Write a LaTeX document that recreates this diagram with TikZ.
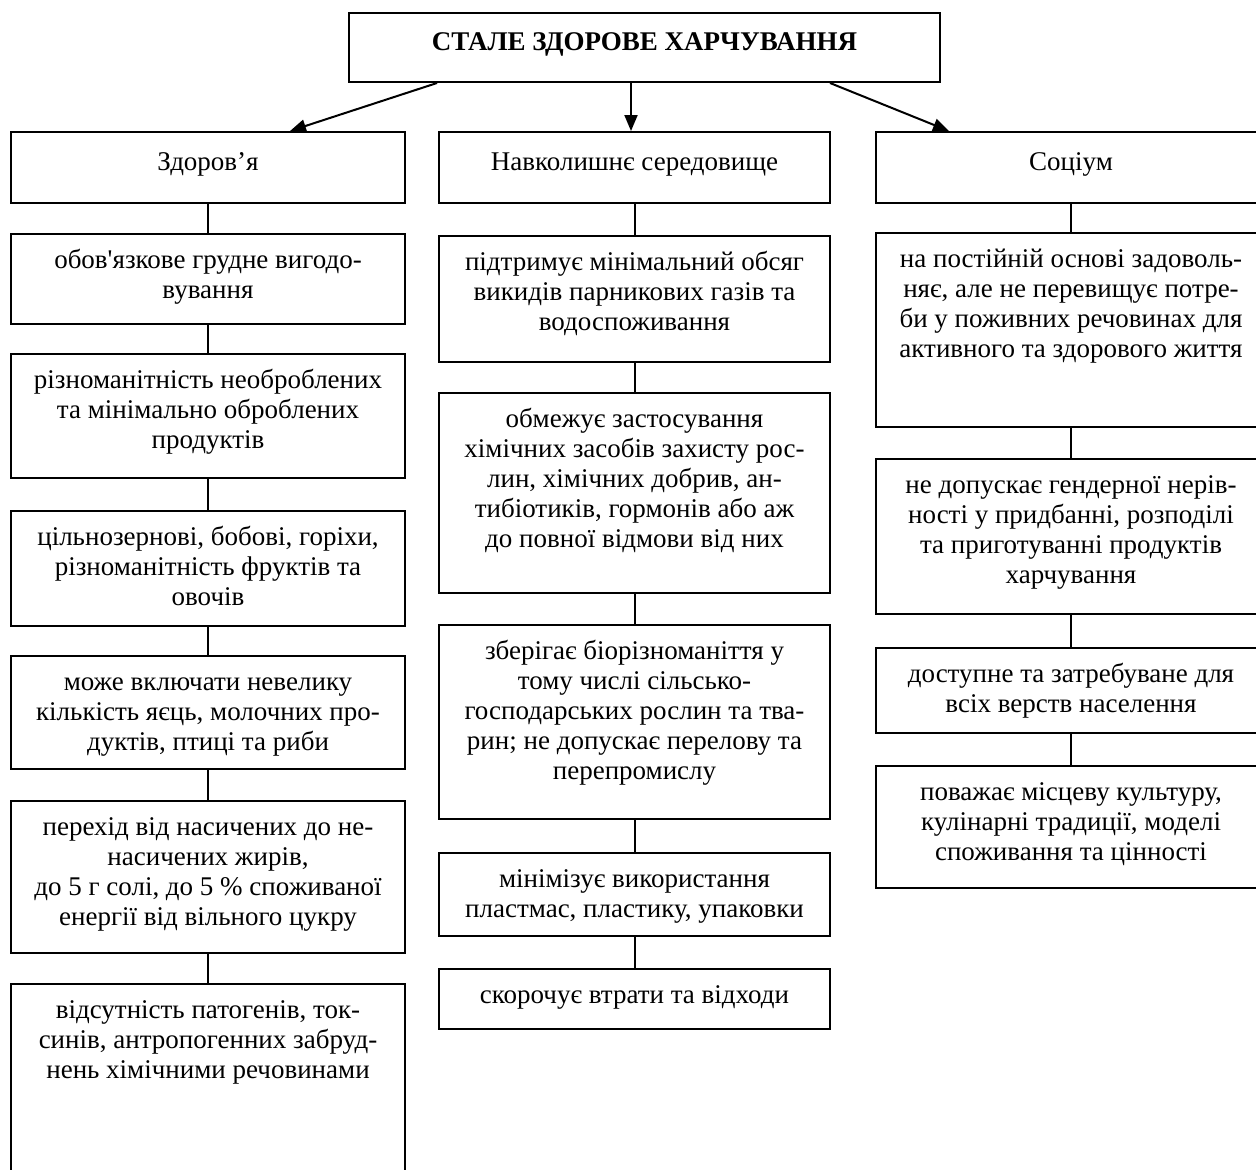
\documentclass[tikz,border=0pt]{standalone}
\usepackage{fontspec}
\setmainfont{Liberation Serif}
\newfontfamily\aposfont{Liberation Serif}[Ligatures=TeXOff]
\usetikzlibrary{arrows.meta}
\newcommand{\bx}[4]{\parbox[c][#2][t]{#1}{\centering\rule{0pt}{#3}#4}}
\tikzset{
  box/.style={draw, line width=1pt, inner sep=0pt, anchor=north, font=\fontsize{13.5}{15}\selectfont},
  link/.style={line width=1pt},
  arr/.style={line width=1pt, -{Triangle[length=8pt,width=6.5pt]}}
}
\begin{document}
\begin{tikzpicture}[x=0.5pt,y=-0.5pt]
\useasboundingbox (0,0) rectangle (1256,1169);
% title
\node[box, font=\fontsize{13.5}{15}\selectfont\bfseries] (top) at (644.5,12) {\bx{295.5pt}{34.5pt}{18.8pt}{СТАЛЕ ЗДОРОВЕ ХАРЧУВАННЯ}};
% level 1
\node[box] (h1) at (208,131) {\bx{197pt}{35.5pt}{19pt}{Здоров’я}};
\node[box] (h2) at (634.5,131) {\bx{195.5pt}{35.5pt}{19pt}{Навколишнє середовище}};
\node[box] (h3) at (1071,131) {\bx{195pt}{35.5pt}{19pt}{Соціум}};
% column 1
\node[box] (c1a) at (208,233) {\bx{197pt}{45pt}{17pt}{обов{\aposfont'}язкове грудне вигодо-\\вування}};
\node[box] (c1b) at (208,353) {\bx{197pt}{62pt}{17pt}{різноманітність необроблених\\та мінімально оброблених\\продуктів}};
\node[box] (c1c) at (208,510) {\bx{197pt}{57.5pt}{17pt}{цільнозернові, бобові, горіхи,\\різноманітність фруктів та\\овочів}};
\node[box] (c1d) at (208,655) {\bx{197pt}{56.5pt}{17pt}{може включати невелику\\кількість яєць, молочних про-\\дуктів, птиці та риби}};
\node[box] (c1e) at (208,800) {\bx{197pt}{76pt}{17pt}{перехід від насичених до не-\\насичених жирів,\\до 5 г солі, до 5 \% споживаної\\енергії від вільного цукру}};
\node[box] (c1f) at (208,983) {\bx{197pt}{100pt}{17pt}{відсутність патогенів, ток-\\синів, антропогенних забруд-\\нень хімічними речовинами}};
% column 2
\node[box] (c2a) at (634.5,235) {\bx{195.5pt}{63pt}{17pt}{підтримує мінімальний обсяг\\викидів парникових газів та\\водоспоживання}};
\node[box] (c2b) at (634.5,392) {\bx{195.5pt}{100pt}{17pt}{обмежує застосування\\хімічних засобів захисту рос-\\лин, хімічних добрив, ан-\\тибіотиків, гормонів або аж\\до повної відмови від них}};
\node[box] (c2c) at (634.5,624) {\bx{195.5pt}{97pt}{17pt}{зберігає біорізноманіття у\\тому числі сільсько-\\господарських рослин та тва-\\рин; не допускає перелову та\\перепромислу}};
\node[box] (c2d) at (634.5,852) {\bx{195.5pt}{41.5pt}{17pt}{мінімізує використання\\пластмас, пластику, упаковки}};
\node[box] (c2e) at (634.5,968) {\bx{195.5pt}{30pt}{17pt}{скорочує втрати та відходи}};
% column 3
\node[box] (c3a) at (1071,232) {\bx{195pt}{97pt}{17pt}{на постійній основі задоволь-\\няє, але не перевищує потре-\\би у поживних речовинах для\\активного та здорового життя}};
\node[box] (c3b) at (1071,458) {\bx{195pt}{77.5pt}{17pt}{не допускає гендерної нерів-\\ності у придбанні, розподілі\\та приготуванні продуктів\\харчування}};
\node[box] (c3c) at (1071,647) {\bx{195pt}{42.5pt}{17pt}{доступне та затребуване для\\всіх верств населення}};
\node[box] (c3d) at (1071,765) {\bx{195pt}{61pt}{17pt}{поважає місцеву культуру,\\кулінарні традиції, моделі\\споживання та цінності}};
% arrows
\draw[arr] ([xshift=44.5pt]top.south west) -- ([xshift=140pt]h1.north west);
\draw[arr] ([xshift=-6.75pt]top.south) -- ([xshift=-1.75pt]h2.north);
\draw[arr] ([xshift=-55.5pt]top.south east) -- ([xshift=37pt]h3.north west);
% connectors
\draw[link] (h1.south) -- (c1a.north);
\draw[link] (c1a.south) -- (c1b.north);
\draw[link] (c1b.south) -- (c1c.north);
\draw[link] (c1c.south) -- (c1d.north);
\draw[link] (c1d.south) -- (c1e.north);
\draw[link] (c1e.south) -- (c1f.north);
\draw[link] (h2.south) -- (c2a.north);
\draw[link] (c2a.south) -- (c2b.north);
\draw[link] (c2b.south) -- (c2c.north);
\draw[link] (c2c.south) -- (c2d.north);
\draw[link] (c2d.south) -- (c2e.north);
\draw[link] (h3.south) -- (c3a.north);
\draw[link] (c3a.south) -- (c3b.north);
\draw[link] (c3b.south) -- (c3c.north);
\draw[link] (c3c.south) -- (c3d.north);
\end{tikzpicture}
\end{document}
